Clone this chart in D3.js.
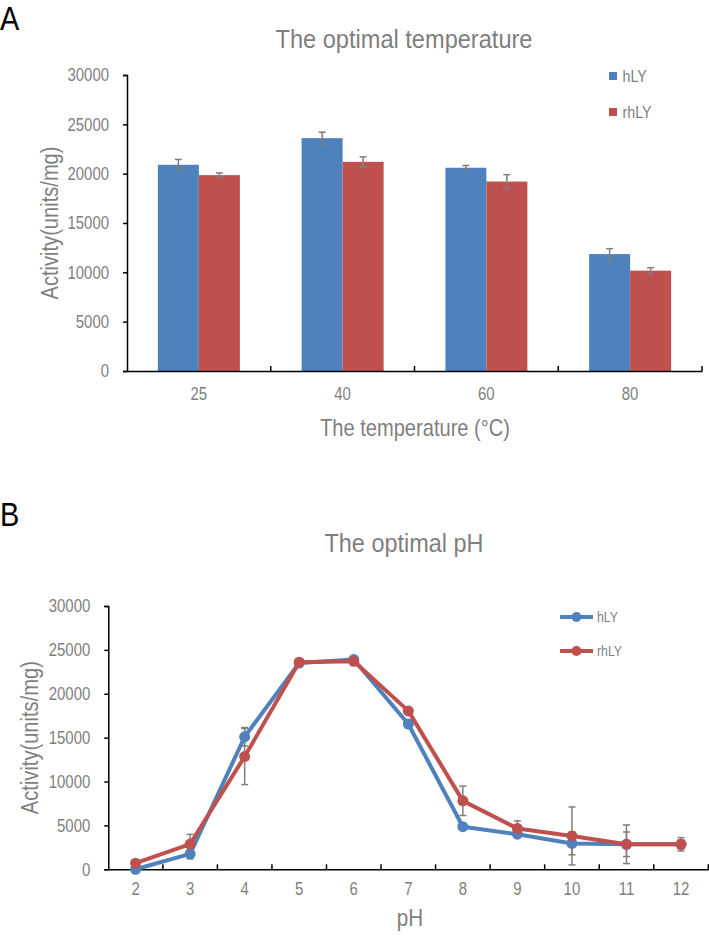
<!DOCTYPE html>
<html><head><meta charset="utf-8">
<script src="https://cdn.jsdelivr.net/npm/d3@7"></script>
<style>
body{margin:0;background:#fff}
svg{display:block}
text{font-family:"Liberation Sans",Arial,Helvetica,sans-serif;}
</style>
</head><body>
<svg id="c" width="709" height="936"></svg>
<script>
// ---------- data ----------
const seriesNames = ["hLY", "rhLY"];
const seriesColors = ["#4f81bd", "#c0504d"];

const tempCategories = ["25", "40", "60", "80"];
const tempHLY = [20900, 23600, 20600, 11850];
const tempHLYErr = [540, 600, 230, 550];
const tempRhLY = [19850, 21200, 19200, 10170];
const tempRhLYErr = [230, 500, 700, 300];

const phCategories = ["2", "3", "4", "5", "6", "7", "8", "9", "10", "11", "12"];
const phHLY = [0, 1750, 15100, 23500, 23900, 16550, 4850, 4000, 2950, 2850, 2850];
const phHLYErr = [0, 550, 1050, 0, 150, 450, 250, 300, 1300, 1400, 500];
const phRhLY = [700, 2880, 12850, 23600, 23700, 18050, 7800, 4650, 3800, 2850, 2850];
const phRhLYErr = [0, 1100, 3200, 0, 0, 200, 1670, 870, 3300, 2200, 760];

const yTicks = [0, 5000, 10000, 15000, 20000, 25000, 30000];

const GRAY = "#7f7f7f";
const svg = d3.select("#c");

// horizontally condense text glyphs (the reference uses a narrow face)
function squeeze(sel, f) {
  sel.each(function () {
    const l = this.getComputedTextLength();
    d3.select(this).attr("textLength", l * f).attr("lengthAdjust", "spacingAndGlyphs");
  });
  return sel;
}
function fitTo(sel, len) {
  sel.attr("textLength", len).attr("lengthAdjust", "spacingAndGlyphs");
  return sel;
}

function styleYAxis(ya) {
  ya.select(".domain").attr("stroke", "#000").attr("stroke-width", 1.5);
  ya.selectAll(".tick line").attr("stroke", "#000").attr("stroke-width", 1.5);
  squeeze(ya.selectAll(".tick text").attr("fill", GRAY).attr("font-size", 18).attr("font-family", null), 0.83);
}

// ---------- Panel A ----------
(function () {
  const L = 127, R = 702, T = 75, B = 371;
  const x = d3.scaleBand().domain(tempCategories).range([L, R]).padding(0);
  const xs = d3.scaleBand().domain(seriesNames).range([0, x.bandwidth()]).paddingInner(0).paddingOuter(0.753);
  const y = d3.scaleLinear().domain([0, 30000]).range([B, T]);
  const g = svg.append("g");

  squeeze(svg.append("text").attr("x", 0).attr("y", 30).attr("font-size", 34).attr("fill", "#000").text("A"), 0.85);
  fitTo(svg.append("text").attr("x", 404).attr("y", 48).attr("text-anchor", "middle")
    .attr("font-size", 25).attr("fill", GRAY).text("The optimal temperature"), 257);

  const vals = [tempHLY, tempRhLY], errs = [tempHLYErr, tempRhLYErr];
  seriesNames.forEach((s, si) => {
    g.append("g").selectAll("rect").data(tempCategories).join("rect")
      .attr("x", d => x(d) + xs(s)).attr("width", xs.bandwidth())
      .attr("y", (d, i) => y(vals[si][i])).attr("height", (d, i) => B - y(vals[si][i]))
      .attr("fill", seriesColors[si]);
  });
  seriesNames.forEach((s, si) => {
    const eg = g.append("g").attr("stroke", GRAY).attr("stroke-width", 1.5);
    tempCategories.forEach((c, i) => {
      const cx = x(c) + xs(s) + xs.bandwidth() / 2;
      const v = vals[si][i], e = errs[si][i];
      eg.append("line").attr("x1", cx).attr("x2", cx).attr("y1", y(v - e)).attr("y2", y(v + e));
      eg.append("line").attr("x1", cx - 3.5).attr("x2", cx + 3.5).attr("y1", y(v + e)).attr("y2", y(v + e));
      eg.append("line").attr("x1", cx - 3.5).attr("x2", cx + 3.5).attr("y1", y(v - e)).attr("y2", y(v - e));
    });
  });

  const ya = g.append("g").attr("transform", `translate(${L},0)`)
    .call(d3.axisLeft(y).tickValues(yTicks).tickSize(4).tickPadding(14).tickFormat(d3.format("d")));
  styleYAxis(ya);

  const xa = g.append("g").attr("transform", `translate(0,${B})`)
    .call(d3.axisBottom(x).tickSize(0).tickPadding(16));
  xa.select(".domain").attr("stroke", "#000").attr("stroke-width", 1.5);
  squeeze(xa.selectAll(".tick text").attr("fill", GRAY).attr("font-size", 18).attr("font-family", null), 0.83);
  const bounds = tempCategories.map(c => x(c) + x.bandwidth());
  g.append("g").selectAll("line").data(bounds).join("line")
    .attr("x1", d => d).attr("x2", d => d).attr("y1", B).attr("y2", B - 5)
    .attr("stroke", "#000").attr("stroke-width", 1.5);

  fitTo(svg.append("text").attr("x", 415).attr("y", 436).attr("text-anchor", "middle")
    .attr("font-size", 24).attr("fill", GRAY).text("The temperature (°C)"), 190);
  fitTo(svg.append("text").attr("transform", `translate(57.5,${(T + B) / 2}) rotate(-90)`).attr("text-anchor", "middle")
    .attr("font-size", 23).attr("fill", GRAY).text("Activity(units/mg)"), 153);

  seriesNames.forEach((s, si) => {
    const ly = 76 + si * 36;
    svg.append("rect").attr("x", 609).attr("y", ly - 4).attr("width", 8).attr("height", 8).attr("fill", seriesColors[si]);
    squeeze(svg.append("text").attr("x", 622.5).attr("y", ly + 6).attr("font-size", 17).attr("fill", GRAY).text(s), 0.84);
  });
})();

// ---------- Panel B ----------
(function () {
  const L = 108.3, R = 708.3, T = 606, B = 869.3;
  const x = d3.scaleBand().domain(phCategories).range([L, R]).padding(0);
  const cx = d => x(d) + x.bandwidth() / 2;
  const y = d3.scaleLinear().domain([0, 30000]).range([B, T]);
  const g = svg.append("g");

  squeeze(svg.append("text").attr("x", 0).attr("y", 526).attr("font-size", 34).attr("fill", "#000").text("B"), 0.85);
  fitTo(svg.append("text").attr("x", 404).attr("y", 552).attr("text-anchor", "middle")
    .attr("font-size", 25).attr("fill", GRAY).text("The optimal pH"), 159);

  const ya = g.append("g").attr("transform", `translate(${L},0)`)
    .call(d3.axisLeft(y).tickValues(yTicks).tickSize(4).tickPadding(14).tickFormat(d3.format("d")));
  styleYAxis(ya);

  const xa = g.append("g").attr("transform", `translate(0,${B})`)
    .call(d3.axisBottom(x).tickSize(0).tickPadding(13));
  xa.select(".domain").attr("stroke", "#000").attr("stroke-width", 1.5);
  squeeze(xa.selectAll(".tick text").attr("fill", GRAY).attr("font-size", 18).attr("font-family", null), 0.83);
  const bounds = phCategories.map(c => x(c) + x.bandwidth());
  g.append("g").selectAll("line").data(bounds).join("line")
    .attr("x1", d => d).attr("x2", d => d).attr("y1", B).attr("y2", B - 5)
    .attr("stroke", "#000").attr("stroke-width", 1.5);

  const vals = [phHLY, phRhLY], errs = [phHLYErr, phRhLYErr];
  seriesNames.forEach((s, si) => {
    const eg = g.append("g").attr("stroke", GRAY).attr("stroke-width", 1.5);
    phCategories.forEach((c, i) => {
      const v = vals[si][i], e = errs[si][i];
      if (!e) return;
      const px = cx(c);
      eg.append("line").attr("x1", px).attr("x2", px).attr("y1", y(v - e)).attr("y2", y(v + e));
      eg.append("line").attr("x1", px - 3.5).attr("x2", px + 3.5).attr("y1", y(v + e)).attr("y2", y(v + e));
      eg.append("line").attr("x1", px - 3.5).attr("x2", px + 3.5).attr("y1", y(v - e)).attr("y2", y(v - e));
    });
  });
  seriesNames.forEach((s, si) => {
    const line = d3.line().x((d, i) => cx(phCategories[i])).y(d => y(d));
    g.append("path").datum(vals[si]).attr("d", line).attr("fill", "none")
      .attr("stroke", seriesColors[si]).attr("stroke-width", 4).attr("stroke-linejoin", "round");
    g.append("g").selectAll("circle").data(vals[si]).join("circle")
      .attr("cx", (d, i) => cx(phCategories[i])).attr("cy", d => y(d)).attr("r", 5.5)
      .attr("fill", seriesColors[si]);
  });

  squeeze(svg.append("text").attr("x", 410).attr("y", 926).attr("text-anchor", "middle")
    .attr("font-size", 24).attr("fill", GRAY).text("pH"), 0.86);
  fitTo(svg.append("text").attr("transform", `translate(38,${(T + B) / 2}) rotate(-90)`).attr("text-anchor", "middle")
    .attr("font-size", 23).attr("fill", GRAY).text("Activity(units/mg)"), 153);

  seriesNames.forEach((s, si) => {
    const ly = 617 + si * 34;
    svg.append("line").attr("x1", 560).attr("x2", 593).attr("y1", ly).attr("y2", ly)
      .attr("stroke", seriesColors[si]).attr("stroke-width", 4);
    svg.append("circle").attr("cx", 576.5).attr("cy", ly).attr("r", 5).attr("fill", seriesColors[si]);
    squeeze(svg.append("text").attr("x", 597).attr("y", ly + 5).attr("font-size", 15).attr("fill", GRAY).text(s), 0.82);
  });
})();
</script>
</body></html>
